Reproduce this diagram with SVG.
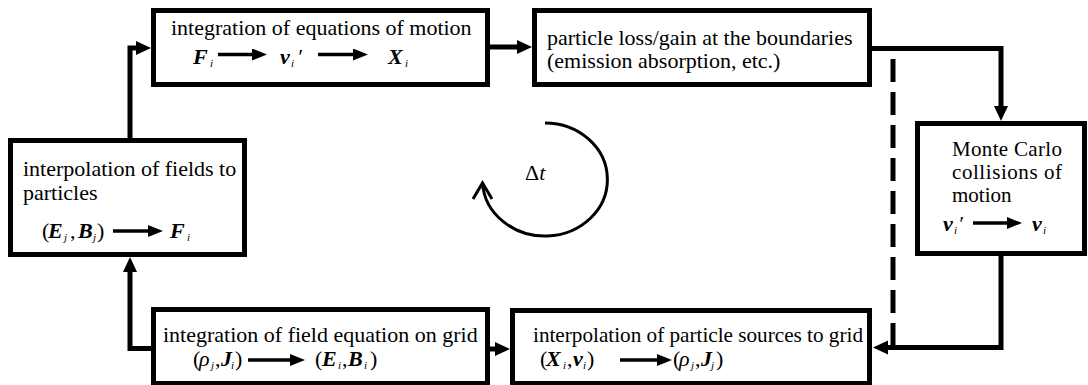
<svg xmlns="http://www.w3.org/2000/svg" width="1088" height="385" viewBox="0 0 1088 385">
<style>
.box{fill:#fff;stroke:#000;stroke-width:5}
.t{font-family:"Liberation Serif","Times New Roman",serif;font-size:22px;fill:#000}
.mc{font-size:21px}
.m{font-weight:bold;font-style:italic}
.g{font-style:italic}
.s{font-size:11px;font-style:italic;font-weight:normal}
.conn{fill:none;stroke:#000;stroke-width:5}
.dash{fill:none;stroke:#000;stroke-width:5;stroke-dasharray:23 10}
.ta{fill:none;stroke:#000;stroke-width:3.5}
.loop{fill:none;stroke:#000;stroke-width:3}
</style>
<defs>
<marker id="ah" markerUnits="userSpaceOnUse" markerWidth="16" markerHeight="16" refX="7" refY="7" orient="auto"><path d="M0,0 L15,7 L0,14 z" fill="#000"/></marker>
<marker id="sa" markerUnits="userSpaceOnUse" markerWidth="16" markerHeight="13" refX="7" refY="6" orient="auto"><path d="M0,0 L15,6 L0,12 z" fill="#000"/></marker>
</defs>
<g id="connectors">
<path class="conn" d="M130,138 V48 H143" marker-end="url(#ah)"/>
<path class="conn" d="M490,47 H524" marker-end="url(#ah)"/>
<path class="conn" d="M872,48.5 H1001 V113" marker-end="url(#ah)"/>
<path class="conn" d="M1001,256 V347.5 H881" marker-end="url(#ah)"/>
<path class="dash" d="M893,59 V347"/>
<path class="conn" d="M490,349 H502" marker-end="url(#ah)"/>
<path class="conn" d="M151,348.5 H130 V265" marker-end="url(#ah)"/>
</g>
<g id="node-eqmotion">
<rect class="box" x="153.5" y="10.5" width="334" height="74"/>
<text class="t" x="171" y="35">integration of equations of motion</text>
<text class="t m" y="64"><tspan x="193">F</tspan><tspan class="s" x="210" y="67">i</tspan><tspan x="280" y="64">v</tspan><tspan class="s" x="291" y="67">i</tspan><tspan x="297" y="64" font-weight="normal">′</tspan><tspan x="388">X</tspan><tspan class="s" x="405" y="67">i</tspan></text>
<path class="ta" d="M218,54.5 H259" marker-end="url(#sa)"/>
<path class="ta" d="M318,54.5 H360" marker-end="url(#sa)"/>
</g>
<g id="node-boundaries">
<rect class="box" x="534.5" y="10.5" width="335" height="74"/>
<text class="t" x="547" y="45">particle loss/gain at the boundaries</text>
<text class="t" x="547" y="68">(emission absorption, etc.)</text>
</g>
<g id="node-montecarlo">
<rect class="box" x="917.5" y="123.5" width="167" height="130"/>
<text class="t mc" x="952" y="156" textLength="110" lengthAdjust="spacing">Monte Carlo</text>
<text class="t mc" x="952" y="179" textLength="110" lengthAdjust="spacing">collisions of</text>
<text class="t mc" x="952" y="202">motion</text>
<text class="t m" y="231"><tspan x="943">v</tspan><tspan class="s" x="954" y="234">i</tspan><tspan x="958" y="231" font-weight="normal">′</tspan><tspan x="1032">v</tspan><tspan class="s" x="1043" y="234">i</tspan></text>
<path class="ta" d="M973,223 H1014" marker-end="url(#sa)"/>
</g>
<g id="node-fields">
<rect class="box" x="10.5" y="140.5" width="234" height="114"/>
<text class="t" x="23" y="176">interpolation of fields to</text>
<text class="t" x="23" y="200">particles</text>
<text class="t" y="238"><tspan x="42">(</tspan><tspan class="m" x="48">E</tspan><tspan class="s" x="64" y="241">j</tspan><tspan x="70" y="238">,</tspan><tspan class="m" x="78">B</tspan><tspan class="s" x="93" y="241">j</tspan><tspan x="97" y="238">)</tspan><tspan class="m" x="170">F</tspan><tspan class="s" x="187" y="241">i</tspan></text>
<path class="ta" d="M113,231 H155" marker-end="url(#sa)"/>
</g>
<g id="node-fieldeq">
<rect class="box" x="153.5" y="309.5" width="334" height="74"/>
<text class="t" x="163" y="342">integration of field equation on grid</text>
<text class="t" y="366"><tspan x="193">(</tspan><tspan class="g" x="199">ρ</tspan><tspan class="s" x="211" y="369">j</tspan><tspan x="215" y="366">,</tspan><tspan class="m" x="221">J</tspan><tspan class="s" x="231" y="369">i</tspan><tspan x="235" y="366">)</tspan><tspan x="315">(</tspan><tspan class="m" x="322">E</tspan><tspan class="s" x="338" y="369">i</tspan><tspan x="342" y="366">,</tspan><tspan class="m" x="348">B</tspan><tspan class="s" x="364" y="369">i</tspan><tspan x="370" y="366">)</tspan></text>
<path class="ta" d="M248,360 H297" marker-end="url(#sa)"/>
</g>
<g id="node-sources">
<rect class="box" x="512.5" y="310.5" width="357" height="73"/>
<text class="t" x="533" y="342" textLength="330" lengthAdjust="spacingAndGlyphs">interpolation of particle sources to grid</text>
<text class="t" y="366"><tspan x="540">(</tspan><tspan class="m" x="546">X</tspan><tspan class="s" x="563" y="369">i</tspan><tspan x="567" y="366">,</tspan><tspan class="m" x="573">v</tspan><tspan class="s" x="583" y="369">i</tspan><tspan x="587" y="366">)</tspan><tspan x="673">(</tspan><tspan class="g" x="679">ρ</tspan><tspan class="s" x="691" y="369">j</tspan><tspan x="695" y="366">,</tspan><tspan class="m" x="701">J</tspan><tspan class="s" x="711" y="369">j</tspan><tspan x="716" y="366">)</tspan></text>
<path class="ta" d="M620,360 H664" marker-end="url(#sa)"/>
</g>
<g id="timestep">
<path class="loop" d="M545,123 A62.5,56.5 0 1 1 482.5,183"/>
<polyline class="loop" points="473,199 482.5,183 492,199"/>
<text class="t" x="525" y="180" font-size="19"><tspan>Δ</tspan><tspan class="g">t</tspan></text>
</g>
</svg>
